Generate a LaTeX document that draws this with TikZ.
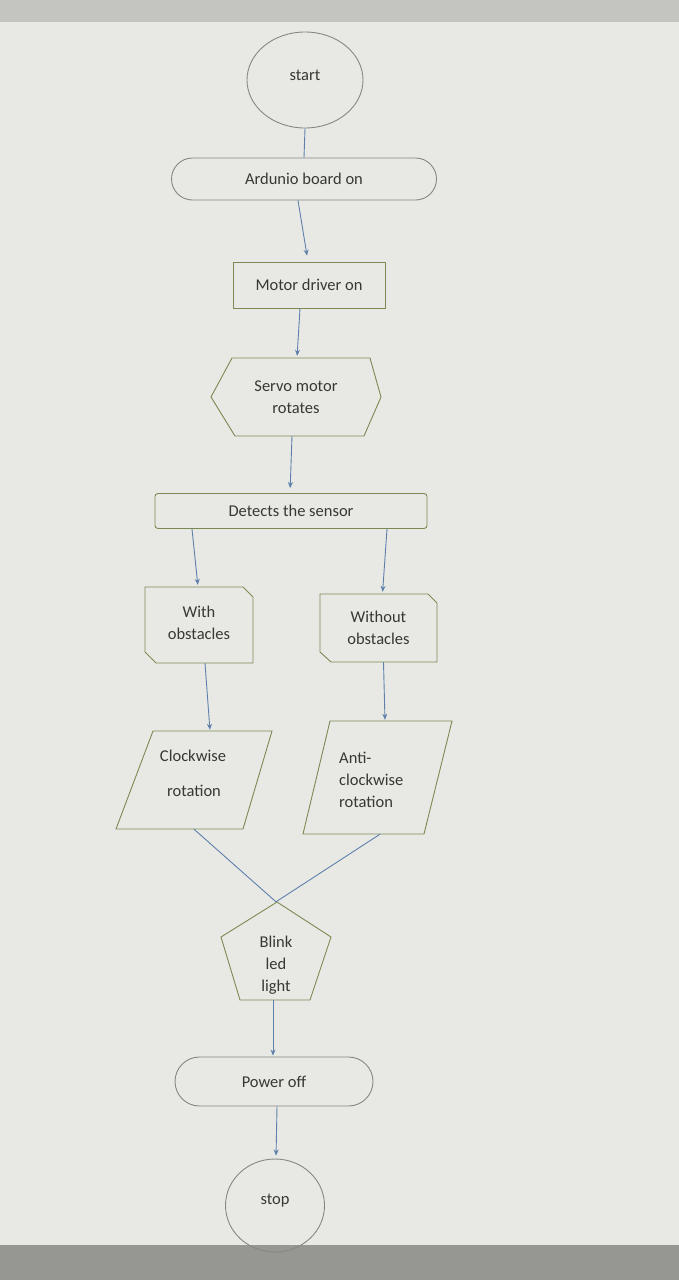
\documentclass[tikz,border=0pt]{standalone}
\usepackage{fontspec}
\setmainfont{Carlito}
\usetikzlibrary{arrows.meta,shapes.geometric,shapes.misc}
\definecolor{bgc}{RGB}{232,233,229}
\definecolor{topc}{RGB}{196,197,192}
\definecolor{botc}{RGB}{150,150,146}
\definecolor{grayline}{RGB}{135,135,130}
\definecolor{olive}{RGB}{122,138,82}
\definecolor{conn}{RGB}{95,128,170}
\definecolor{txt}{RGB}{55,55,52}
\tikzset{
  lbl/.style={font=\fontsize{16.5}{22}\selectfont, text=txt, align=center, inner sep=0pt},
  oval/.style={lbl, ellipse, draw=grayline, line width=0.9pt},
  stad/.style={lbl, rounded rectangle, draw=grayline, line width=0.9pt},
  box/.style={lbl, rectangle, draw=olive, line width=0.9pt},
  ghost/.style={lbl, rectangle, draw=none},
  shp/.style={draw=olive, line width=0.9pt},
  link/.style={draw=conn, line width=0.9pt},
  arr/.style={link, -{Stealth[length=6pt,width=5pt]}}
}
\begin{document}
\begin{tikzpicture}[x=1pt,y=-1pt]
\useasboundingbox (0,0) rectangle (679,1280);
\fill[bgc] (0,0) rectangle (679,1280);
\fill[topc] (0,0) rectangle (679,22);
\fill[botc] (0,1245) rectangle (679,1280);

% nodes
\node[oval, minimum width=116, minimum height=96] (start) at (305,80) {};
\node[lbl] (startt) at (305,75) {start};
\node[stad, minimum width=265, minimum height=42] (ard) at (304,179) {Ardunio board on};
\node[box, minimum width=152, minimum height=46] (mot) at (309,285) {Motor driver on};
\node[ghost, minimum width=170, minimum height=78] (servo) at (296,397) {Servo motor\\rotates};
\node[box, rounded corners=3pt, minimum width=272, minimum height=35] (det) at (291,511) {Detects the sensor};
\node[ghost, minimum width=108, minimum height=76] (with) at (199,625) {};
\node[lbl] (witht) at (199,623) {With\\obstacles};
\node[ghost, minimum width=117, minimum height=68] (without) at (378.5,628) {Without\\obstacles};
\node[ghost, minimum width=156, minimum height=98] (cw) at (194,780) {};
\node[lbl, anchor=base] (cwa) at (193,761) {Clockwise};
\node[lbl, anchor=base] (cwb) at (194,796) {rotation};
\node[ghost, minimum width=149, minimum height=113] (acw) at (377,777.5) {};
\node[lbl, align=left, anchor=north west] (acwt) at (339,752) {Anti-\\clockwise\\rotation};
\node[ghost, minimum width=109, minimum height=98] (blink) at (276,951) {};
\node[lbl] (blinkt) at (276,965) {Blink\\led\\light};
\node[stad, minimum width=198, minimum height=49] (pow) at (274,1081.5) {Power off};
\node[oval, minimum width=99, minimum height=93] (stop) at (275,1205.5) {};
\node[lbl] (stopt) at (275,1201) {stop};

% custom outlines
\draw[shp] (232,358) -- (370,358) -- (381,397) -- (364,436) -- (235,436) -- (211,397) -- cycle;
\draw[shp] (145,587) -- (243,587) -- (253,597) -- (253,663) -- (156,663) -- (145,652) -- cycle;
\draw[shp] (320,594) -- (428,594) -- (437,603) -- (437,662) -- (331,662) -- (320,652) -- cycle;
\draw[shp] (153,731) -- (272,731) -- (243,829) -- (116,829) -- cycle;
\draw[shp] (330,721) -- (452,721) -- (424,834) -- (303,834) -- cycle;
\draw[shp] (277,902) -- (331,937) -- (310,1000) -- (240,1000) -- (221,937) -- cycle;

% connectors
\draw[link] (start.south) -- (ard.north);
\draw[arr, shorten >=6pt] ([xshift=-6pt]ard.south) -- ([xshift=-1pt]mot.north);
\draw[arr, shorten >=2pt] ([xshift=-9pt]mot.south) -- ([xshift=1pt]servo.north);
\draw[arr, shorten >=5pt] ([xshift=-4pt]servo.south) -- ([xshift=-1pt]det.north);
\draw[arr, shorten >=2pt] ([xshift=-99pt]det.south) -- ([xshift=-1pt]with.north);
\draw[arr, shorten >=2pt] ([xshift=96pt]det.south) -- ([xshift=4pt]without.north);
\draw[arr, shorten >=1pt] ([xshift=6pt]with.south) -- ([xshift=16pt]cw.north);
\draw[arr, shorten >=1pt] ([xshift=5pt]without.south) -- ([xshift=8pt]acw.north);
\draw[link] (cw.south) -- (blink.north);
\draw[link] ([xshift=3pt]acw.south) -- (blink.north);
\draw[arr, shorten >=1pt] ([xshift=-3pt]blink.south) -- ([xshift=-1pt]pow.north);
\draw[arr, shorten >=3pt] ([xshift=3pt]pow.south) -- ([xshift=1pt]stop.north);
\end{tikzpicture}
\end{document}
